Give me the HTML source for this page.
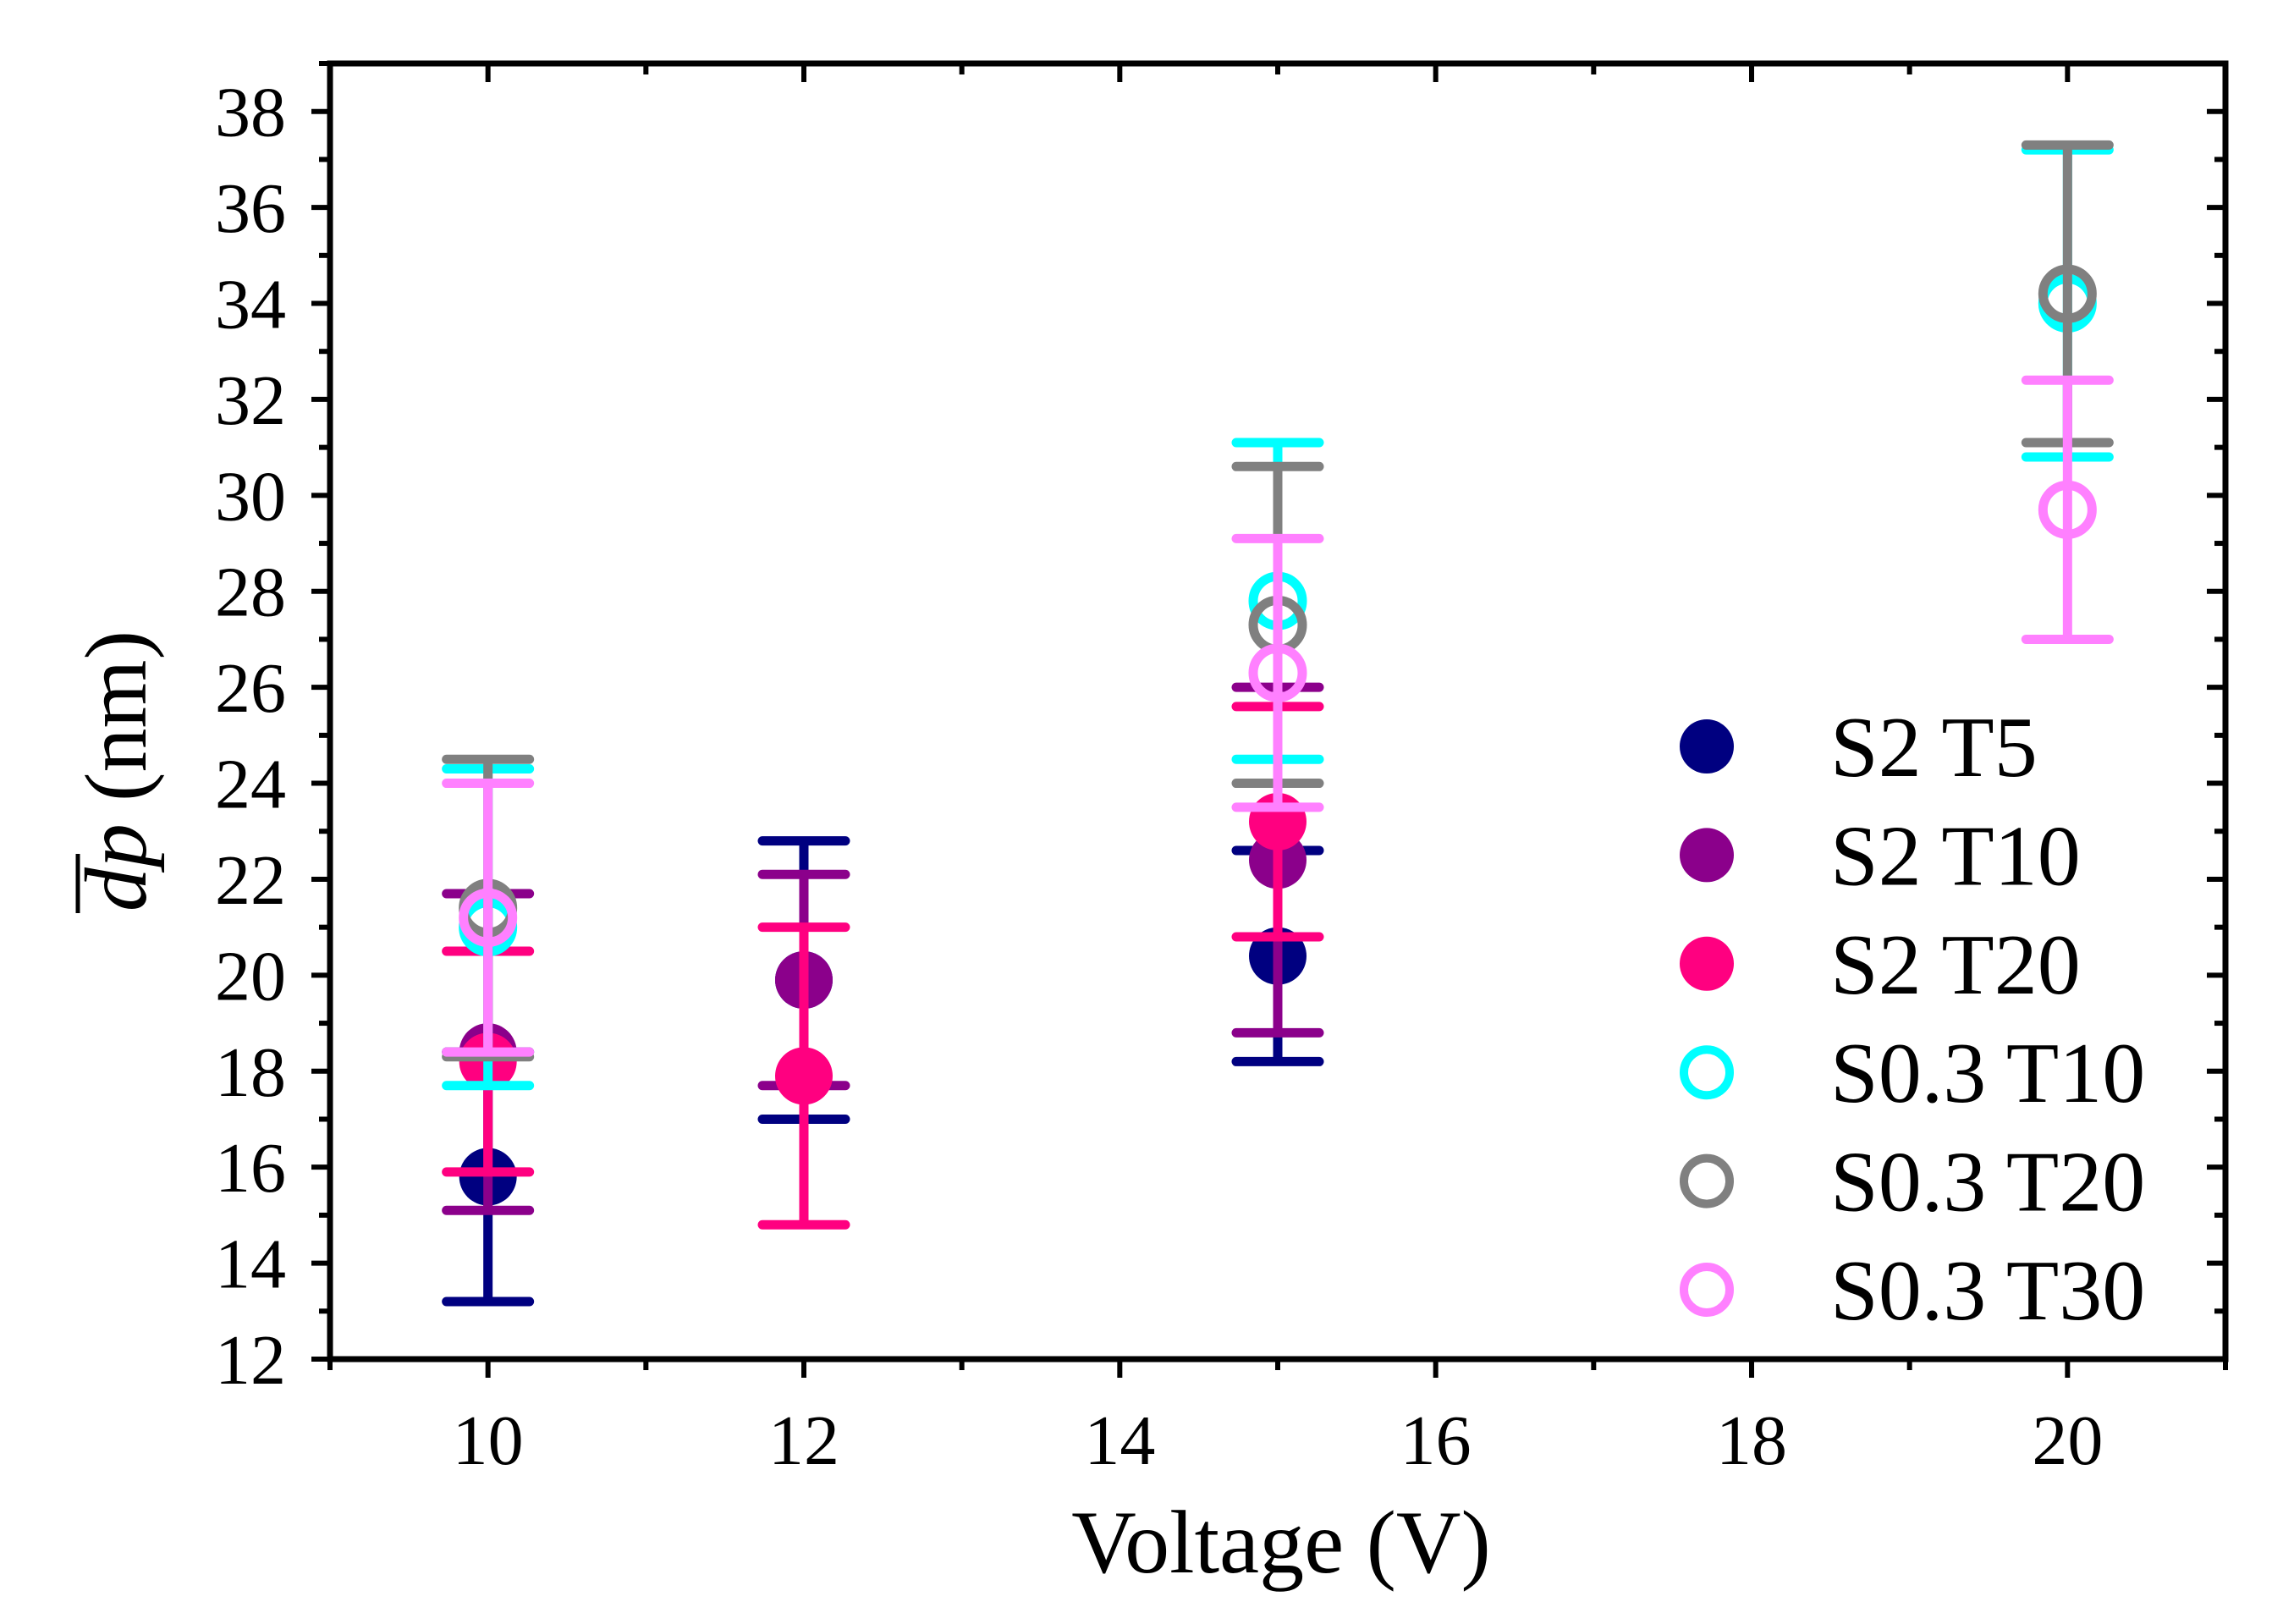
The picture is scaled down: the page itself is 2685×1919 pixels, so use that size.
<!DOCTYPE html>
<html><head><meta charset="utf-8"><style>
html,body{margin:0;padding:0;background:#fff;}
svg{display:block;font-family:"Liberation Serif",serif;}
</style></head><body>
<svg id="chart" width="2685" height="1919" viewBox="0 0 2685 1919" xmlns="http://www.w3.org/2000/svg">
<g id="plot"></g>
<g id="axes"></g>
<g id="legend"></g>
<text x="1514" y="1858" font-size="106" text-anchor="middle">Voltage (V)</text>
<g transform="translate(172,911) rotate(-90)">
<text x="0" y="0" font-size="104" text-anchor="middle"><tspan font-style="italic">dp</tspan> (nm)</text>
<line x1="-168" y1="-80" x2="-98" y2="-80" stroke="#000" stroke-width="5"/>
</g>
</svg>
<script>
const seriesNames = ["S2 T5","S2 T10","S2 T20","S0.3 T10","S0.3 T20","S0.3 T30"];
const seriesColors = ["#000080","#8B008B","#FF0080","#00FFFF","#808080","#FF80FF"];
const seriesFilled = [true,true,true,false,false,false];
const xT5 = [10,12,15];
const yT5 = [15.8,19.9,20.4];
const eT5 = [2.6,2.9,2.2];
const xT10 = [10,12,15];
const yT10 = [18.4,19.9,22.4];
const eT10 = [3.3,2.2,3.6];
const xT20 = [10,12,15];
const yT20 = [18.2,17.9,23.2];
const eT20 = [2.3,3.1,2.4];
const xS03T10 = [10,15,20];
const yS03T10 = [21.0,27.8,34.0];
const eS03T10 = [3.3,3.3,3.2];
const xS03T20 = [10,15,20];
const yS03T20 = [21.4,27.3,34.2];
const eS03T20 = [3.1,3.3,3.1];
const xS03T30 = [10,15,20];
const yS03T30 = [21.2,26.3,29.7];
const eS03T30 = [2.8,2.8,2.7];
const xTicks = [10,12,14,16,18,20];
const yTicks = [12,14,16,18,20,22,24,26,28,30,32,34,36,38];

const L=390,R=2630,T=75,B=1606, XMIN=9,XMAX=21,YMIN=12,YMAX=39;
const sx=v=>L+(v-XMIN)/(XMAX-XMIN)*(R-L);
const sy=v=>B-(v-YMIN)/(YMAX-YMIN)*(B-T);
const NS="http://www.w3.org/2000/svg";
function mk(tag,attrs,parent){const e=document.createElementNS(NS,tag);for(const k in attrs)e.setAttribute(k,attrs[k]);parent.appendChild(e);return e;}
const plot=document.getElementById('plot'),axes=document.getElementById('axes'),legend=document.getElementById('legend');
const allX=[xT5,xT10,xT20,xS03T10,xS03T20,xS03T30];
const allY=[yT5,yT10,yT20,yS03T10,yS03T20,yS03T30];
const allE=[eT5,eT10,eT20,eS03T10,eS03T20,eS03T30];
for(let s=0;s<6;s++){
  const c=seriesColors[s];
  for(let i=0;i<allX[s].length;i++){
    const x=sx(allX[s][i]),y=allY[s][i],e=allE[s][i];
    const g=mk('g',{},plot);
    
    
    mk('line',{x1:x,x2:x,y1:sy(y-e),y2:sy(y+e),stroke:c,'stroke-width':11},g);
    mk('line',{x1:x-49,x2:x+49,y1:sy(y-e),y2:sy(y-e),stroke:c,'stroke-width':11,'stroke-linecap':'round'},g);
    mk('line',{x1:x-49,x2:x+49,y1:sy(y+e),y2:sy(y+e),stroke:c,'stroke-width':11,'stroke-linecap':'round'},g);
    if(seriesFilled[s]) mk('circle',{cx:x,cy:sy(y),r:34,fill:c},g);
    else mk('circle',{cx:x,cy:sy(y),r:29,fill:'none',stroke:c,'stroke-width':11},g);
  }
}
const fr=mk('rect',{x:L,y:T,width:R-L,height:B-T,fill:'none',stroke:'#000','stroke-width':7},axes);


for(let v=XMIN;v<=XMAX;v++){
  const major=xTicks.includes(v),len=major?22:13,x=sx(v);
  mk('line',{x1:x,x2:x,y1:B,y2:B+len,stroke:'#000','stroke-width':6},axes);
  mk('line',{x1:x,x2:x,y1:T,y2:T+len,stroke:'#000','stroke-width':6},axes);
}
xTicks.forEach(v=>{const t=mk('text',{x:sx(v),y:1730,'font-size':84,'text-anchor':'middle'},axes);t.textContent=v;

});
for(let v=YMIN;v<=YMAX;v++){
  const major=yTicks.includes(v),len=major?22:13,y=sy(v);
  mk('line',{x1:L-len,x2:L,y1:y,y2:y,stroke:'#000','stroke-width':6},axes);
  mk('line',{x1:R-len,x2:R,y1:y,y2:y,stroke:'#000','stroke-width':6},axes);
}
yTicks.forEach(v=>{const t=mk('text',{x:338,y:sy(v)+29,'font-size':84,'text-anchor':'end'},axes);t.textContent=v;

});
for(let s=0;s<6;s++){
  const y=882+s*128.4,g=mk('g',{},legend);
  
  
  if(seriesFilled[s]) mk('circle',{cx:2017,cy:y,r:32,fill:seriesColors[s]},g);
  else mk('circle',{cx:2017,cy:y,r:27,fill:'none',stroke:seriesColors[s],'stroke-width':10},g);
  const t=mk('text',{x:2163,y:y+35,'font-size':102},g);t.textContent=seriesNames[s];
}
</script>
</body></html>
